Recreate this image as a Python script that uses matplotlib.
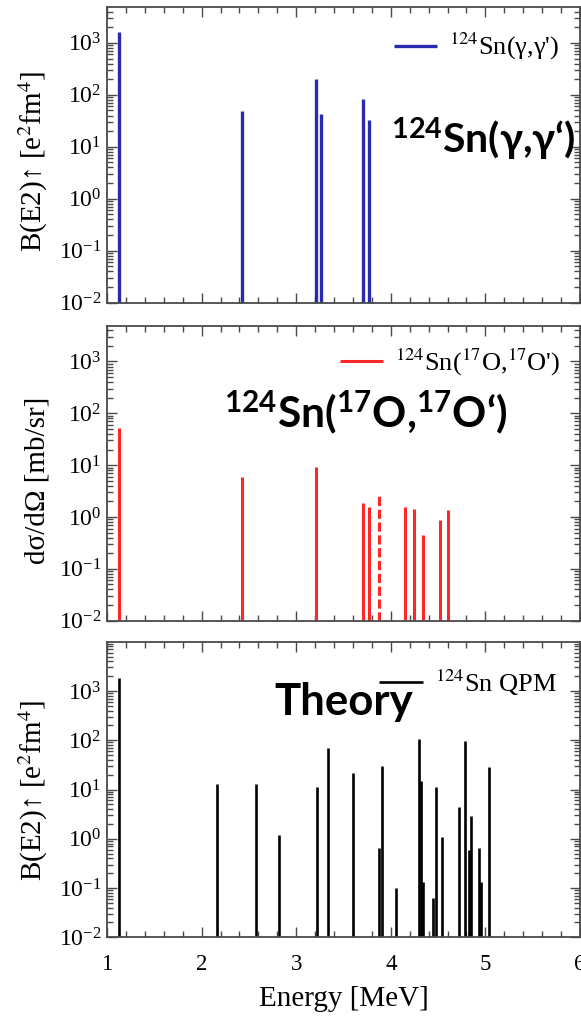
import matplotlib
matplotlib.use("Agg")
import matplotlib.pyplot as plt
from matplotlib.ticker import LogLocator, FixedLocator, MultipleLocator, NullFormatter

# ---- data -------------------------------------------------------------
# 124Sn(gamma,gamma') : B(E2)up [e^2 fm^4]
gg_energy = [1.13, 2.43, 3.21, 3.26, 3.71, 3.77]
gg_be2 = [1600, 49, 200, 42, 82, 33]

# 124Sn(17O,17O') : dsigma/dOmega [mb/sr]
oo_energy = [1.13, 2.43, 3.21, 3.71, 3.77, 4.15, 4.25, 4.34, 4.52, 4.60]
oo_xs = [52, 6.0, 9.4, 1.9, 1.55, 1.55, 1.45, 0.45, 0.88, 1.37]
oo_tent_energy = [3.88]          # tentative state (dashed)
oo_tent_xs = [2.5]

# 124Sn QPM : B(E2)up [e^2 fm^4]
qpm_energy = [1.13, 2.16, 2.58, 2.82, 3.22, 3.34, 3.60, 3.87, 3.91, 4.05,
              4.295, 4.32, 4.34, 4.45, 4.48, 4.54, 4.72, 4.78, 4.83, 4.85,
              4.93, 4.95, 5.04]
qpm_be2 = [1800, 13, 13, 1.2, 11, 68, 22, 0.64, 30, 0.10,
           105, 15, 0.13, 0.062, 11.3, 1.1, 4.4, 95, 0.59, 2.9,
           0.64, 0.13, 28]

x_ticks = [1, 2, 3, 4, 5, 6]
y_major = [1e-2, 1e-1, 1e0, 1e1, 1e2, 1e3]

# ---- style --------------------------------------------------------------
plt.rcParams["font.family"] = ["Liberation Serif", "DejaVu Serif"]
plt.rcParams["mathtext.fontset"] = "stix"
plt.rcParams["mathtext.rm"] = "Lato:bold"
plt.rcParams["mathtext.bf"] = "Lato:bold"
plt.rcParams["mathtext.it"] = "Lato:bold"

FRAME = "#4a4a4a"
BLUE = "#2a2ab0"
RED = "#ff2626"
BIG_FONT = ["Lato", "Open Sans", "DejaVu Sans"]

fig = plt.figure(figsize=(5.81, 10.16), dpi=100)
W, H = 581.0, 1016.0


def axes_px(left, right, top, bottom):
    return fig.add_axes([left / W, 1 - bottom / H, (right - left) / W, (bottom - top) / H])


ax1 = axes_px(107, 580, 7, 302.7)
ax2 = axes_px(107, 580, 325.7, 620.7)
ax3 = axes_px(107, 580, 641.7, 937.3)

floor = 1e-2
ylims = [(floor, 4900), (floor, 4900), (floor, 1e4)]

for ax, ylim in zip((ax1, ax2, ax3), ylims):
    ax.set_xlim(1, 6)
    ax.set_yscale("log")
    ax.set_ylim(*ylim)
    ax.xaxis.set_major_locator(FixedLocator(x_ticks))
    ax.xaxis.set_minor_locator(MultipleLocator(0.2))
    ax.yaxis.set_major_locator(FixedLocator(y_major))
    ax.yaxis.set_minor_locator(LogLocator(base=10, subs=range(2, 10), numticks=20))
    ax.yaxis.set_minor_formatter(NullFormatter())
    ax.tick_params(which="both", direction="in", top=True, right=True,
                   color=FRAME, width=1.0)
    ax.tick_params(which="major", length=7.5)
    ax.tick_params(which="minor", length=4.0)
    ax.tick_params(axis="y", pad=4, labelsize=17)
    ax.tick_params(axis="x", pad=12, labelsize=16.5)
    for sp in ax.spines.values():
        sp.set_color(FRAME)
        sp.set_linewidth(1.3)

ax1.tick_params(labelbottom=False)
ax2.tick_params(labelbottom=False)

# ---- panel 1: (gamma, gamma') -------------------------------------------
ax1.vlines(gg_energy, floor, gg_be2, colors=BLUE, linewidth=2.4,
           label=r"$^{124}$Sn(γ,γ')")
ax1.set_ylabel(r"B(E2)↑ [e$^2$fm$^4$]", fontsize=21)

# ---- panel 2: (17O, 17O') -----------------------------------------------
ax2.vlines(oo_energy, floor, oo_xs, colors=RED, linewidth=2.2,
           label=r"$^{124}$Sn($^{17}$O,$^{17}$O')")
ax2.vlines(oo_tent_energy, floor, oo_tent_xs, colors=RED, linewidth=2.2,
           linestyles=(0, (3, 1.2)))
ax2.set_ylabel(r"dσ/dΩ [mb/sr]", fontsize=21)

# ---- panel 3: QPM -------------------------------------------------------
ax3.vlines(qpm_energy, floor, qpm_be2, colors="black", linewidth=1.9,
           label=r"$^{124}$Sn QPM")
ax3.set_ylabel(r"B(E2)↑ [e$^2$fm$^4$]", fontsize=21)
ax3.set_xlabel("Energy [MeV]", fontsize=21)
ax3.xaxis.set_label_coords(0.5, -0.165)

for ax, yc in ((ax1, 0.477), (ax2, 0.477), (ax3, 0.497)):
    ax.yaxis.set_label_coords(-0.12, yc)

# legends
for ax, (lx, ly) in ((ax1, (0.956, 0.865)), (ax2, (0.958, 0.877)), (ax3, (0.951, 0.862))):
    ax.legend(loc="center right", bbox_to_anchor=(lx, ly), frameon=False,
              borderaxespad=0, borderpad=0, handlelength=1.65, handletextpad=0.45,
              fontsize=19)

# large reaction titles
big = dict(fontweight="bold", family=BIG_FONT, va="baseline",
           math_fontfamily="custom")
ax1.text(0.600, 0.505, r"$^{124}$Sn(γ,γ‘)", transform=ax1.transAxes, fontsize=29.5, **big)
ax2.text(0.247, 0.652, r"$^{124}$Sn($^{17}$O,$^{17}$O‘)", transform=ax2.transAxes,
         fontsize=30.5, **big)
ax3.text(0.353, 0.752, "Theory", transform=ax3.transAxes, fontsize=31.5, **big)

fig.savefig("out.png", dpi=100)
